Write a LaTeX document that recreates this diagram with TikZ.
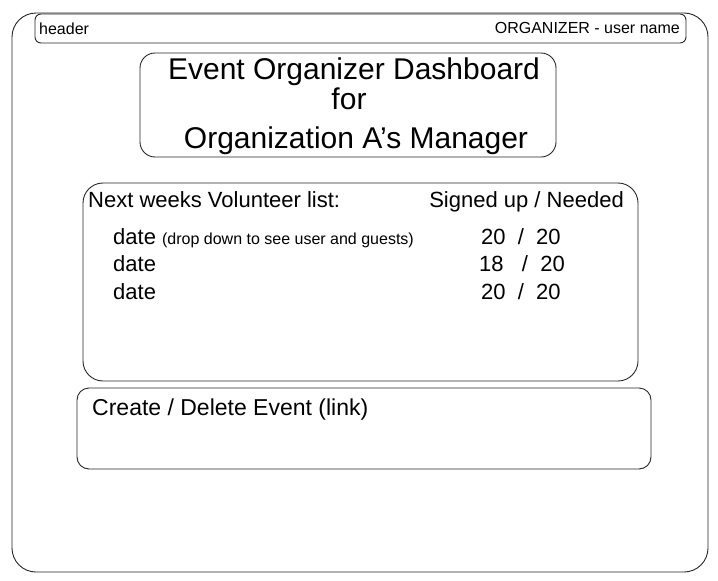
\documentclass[tikz,border=0pt]{standalone}
\usepackage{fontspec}
\setmainfont{Liberation Sans}
\usetikzlibrary{calc}
\tikzset{
  sketch/.style={draw=black!85, line width=0.9pt},
  label/.style={inner sep=0pt, anchor=base west},
}
\newcommand{\fs}[1]{\fontsize{#1}{#1}\selectfont}

\begin{document}
\begin{tikzpicture}[x=1pt, y=-1pt]
			%%%%% START %%%%%
			\useasboundingbox (0, 0) rectangle (718, 581);
			
			% page frame
			\draw[sketch, rounded corners=24] (12, 13) rectangle (708, 572);
			
			% header bar
			\draw[sketch, rounded corners=6] (35, 14) rectangle (686, 43);
			\node[label] (header) at (39, 34) {\fs{16}header};
			\node[label, anchor=base east] (user) at (680, 33) {\fs{16}ORGANIZER - user name};
			
			% title box
			\draw[sketch, rounded corners=15] (140, 53) rectangle (556, 157);
			\node[label, anchor=base] (titleA) at (354, 79) {\fs{30}Event Organizer Dashboard};
			\node[label, anchor=base] (titleB) at (349, 109) {\fs{30}for};
			\node[label, anchor=base] (titleC) at (356, 148) {\fs{30}Organization A's Manager};
			
			% volunteer list
			\draw[sketch, rounded corners=20] (83, 183) rectangle (638, 381);
			\node[label] (listhead) at (88, 207) {\fs{22}Next weeks Volunteer list:};
			\node[label, anchor=base east] (counthead) at (624, 207) {\fs{22}Signed up / Needed};
			
			\node[label] (dateA) at (113, 244) {\fs{22}date \fs{16}(drop down to see user and guests)};
			\node[label] (dateB) at (113, 271) {\fs{22}date};
			\node[label] (dateC) at (113, 299) {\fs{22}date};
			\node[label] (countA) at (481, 244) {\fs{22}20 \ / \ 20};
			\node[label] (countB) at (479, 271) {\fs{22}18 \ \ / \ 20};
			\node[label] (countC) at (481, 299) {\fs{22}20 \ / \ 20};
			
			% create / delete box
			\draw[sketch, rounded corners=12] (77, 388) rectangle (651, 469);
			\node[label] (create) at (92, 415) {\fs{23}Create / Delete Event (link)};
			%%%%% END %%%%%
\end{tikzpicture}
\end{document}
